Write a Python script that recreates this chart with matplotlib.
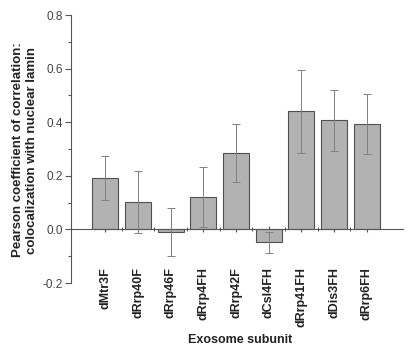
import matplotlib
matplotlib.use("Agg")
import matplotlib.pyplot as plt
import numpy as np
from matplotlib.ticker import MultipleLocator

categories = ["dMtr3F", "dRrp40F", "dRrp46F", "dRrp4FH", "dRrp42F",
              "dCsl4FH", "dRrp41FH", "dDis3FH", "dRrp6FH"]
values = [0.192, 0.102, -0.010, 0.120, 0.285, -0.048, 0.441, 0.407, 0.393]
errors = [0.083, 0.115, 0.090, 0.112, 0.107, 0.040, 0.155, 0.115, 0.112]
ytick_vals = [-0.2, 0.0, 0.2, 0.4, 0.6, 0.8]
ytick_labels = ["-0.2", "0.0", "0.2", "0.4", "0.6", "0.8"]

plt.rcParams['font.family'] = ['Liberation Sans', 'DejaVu Sans']

fig = plt.figure(figsize=(4.07, 3.49), dpi=100)
ax = fig.add_axes([0.1745, 0.189, 0.815, 0.768])

x = np.arange(len(categories))
ax.bar(x, values, width=0.8, color='#b2b2b2', edgecolor='#505050', linewidth=0.8, zorder=2)
ax.errorbar(x, values, yerr=errors, fmt='none', ecolor='#808080', elinewidth=0.7,
            capsize=3, capthick=0.7, zorder=3)

ax.set_xlim(-1.05, 9.1)
ax.set_ylim(-0.2, 0.8)

for s in ['top', 'right']:
    ax.spines[s].set_visible(False)
ax.spines['bottom'].set_position(('data', 0))
ax.spines['left'].set_color('#555555')
ax.spines['bottom'].set_color('#555555')

ax.yaxis.set_minor_locator(MultipleLocator(0.1))
ax.set_yticks(ytick_vals)
ax.set_yticklabels(ytick_labels)
ax.tick_params(axis='y', which='major', length=4.5, width=0.8, color='#555555',
               labelsize=8.5, labelcolor='#444444', pad=1.5)
ax.tick_params(axis='y', which='minor', length=2.5, width=0.8, color='#555555')

ax.set_xticks(x)
ax.set_xticks(x[:-1] + 0.5, minor=True)
ax.set_xticklabels([])
ax.tick_params(axis='x', which='major', length=4, width=0.8, color='#555555', direction='inout')
ax.tick_params(axis='x', which='minor', length=3, width=0.8, color='#555555', direction='inout')

for xi, c in zip(x, categories):
    ax.text(xi, -0.14, c, rotation=90, ha='center', va='top', fontsize=9,
            fontweight='bold', color='#222222')

fig.text(0.59, 0.026, "Exosome subunit", ha='center', va='center', fontsize=9,
         fontweight='bold', color='#222222')
fig.text(0.062, 0.57, "Pearson coefficient of correlation:\ncolocalization with nuclear lamin",
         rotation=90, ha='center', va='center', fontsize=9.5, fontweight='bold',
         color='#222222', linespacing=1.25)

fig.savefig("out.png", dpi=100)
